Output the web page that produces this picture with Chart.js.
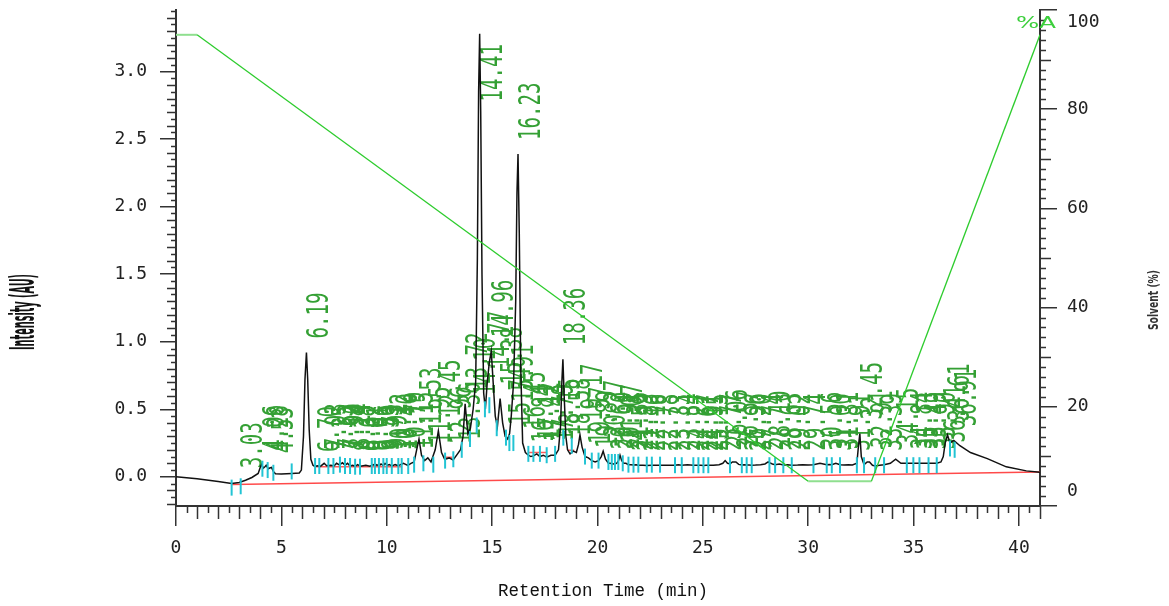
<!DOCTYPE html>
<html>
<head>
<meta charset="utf-8">
<script src="https://cdn.jsdelivr.net/npm/chart.js@4.4.1/dist/chart.umd.min.js"></script>
<style>
  html, body { margin: 0; padding: 0; background: #fff; }
</style>
</head>
<body>
<canvas id="chrom" width="1169" height="606"></canvas>
<script>
// chromatogram — intensity trace, integration marks, peak labels, solvent gradient

const xTicks = [0, 5, 10, 15, 20, 25, 30, 35, 40];
const yTicks = [0, 0.5, 1, 1.5, 2, 2.5, 3];
const solventTicks = [0, 20, 40, 60, 80, 100];

const traceTime = [0, 1, 2, 2.64, 3.0, 3.3, 3.6, 3.9, 4.0, 4.06, 4.15, 4.22, 4.28, 4.38, 4.45, 4.53, 4.62, 4.72, 5.0, 5.5,
  5.85, 5.95, 6.05, 6.12, 6.19, 6.25, 6.32, 6.4, 6.5, 6.6, 6.7, 6.85, 7.03, 7.15, 7.35, 7.5, 7.62, 7.75, 7.9, 8.02,
  8.14, 8.26, 8.38, 8.5, 8.62, 8.75, 9.01, 9.2, 9.36, 9.45, 9.53, 9.63, 9.73, 9.84, 9.92, 10.02, 10.12, 10.25, 10.4, 10.55,
  10.79, 11.0, 11.15, 11.3, 11.42, 11.53, 11.65, 11.8, 11.95, 12.1, 12.3, 12.45, 12.6, 12.75, 12.96, 13.15, 13.36, 13.5, 13.62, 13.72,
  13.85, 13.97, 14.1, 14.22, 14.3, 14.36, 14.41, 14.46, 14.52, 14.6, 14.68, 14.77, 14.87, 14.96, 15.05, 15.15, 15.25, 15.38, 15.5, 15.62,
  15.74, 15.83, 15.91, 16.02, 16.12, 16.18, 16.23, 16.29, 16.36, 16.45, 16.58, 16.72, 16.84, 16.96, 17.12, 17.27, 17.43, 17.59, 17.79, 17.99,
  18.15, 18.25, 18.31, 18.36, 18.42, 18.5, 18.58, 18.7, 18.85, 19.0, 19.1, 19.17, 19.27, 19.41, 19.57, 19.73, 19.89, 20.05, 20.18, 20.27,
  20.38, 20.52, 20.6, 20.75, 20.91, 21.0, 21.07, 21.15, 21.25, 21.35, 21.47, 21.59, 21.71, 21.83, 21.94, 22.16, 22.34, 22.58, 22.78, 22.97,
  23.33, 23.68, 23.84, 24.0, 24.27, 24.55, 24.67, 24.79, 24.91, 25.03, 25.15, 25.26, 25.5, 25.77, 25.95, 26.06, 26.17, 26.29, 26.4, 26.57,
  26.7, 26.85, 26.96, 27.08, 27.2, 27.32, 27.5, 27.74, 27.95, 28.1, 28.16, 28.3, 28.43, 28.63, 28.82, 29.02, 29.22, 29.5, 29.74, 30.0,
  30.25, 30.56, 30.88, 31.0, 31.12, 31.31, 31.51, 31.7, 31.91, 32.1, 32.31, 32.38, 32.45, 32.52, 32.65, 32.8, 32.91, 33.05, 33.18, 33.39,
  33.6, 33.9, 34.15, 34.4, 34.68, 34.84, 34.99, 35.13, 35.28, 35.49, 35.71, 35.9, 36.1, 36.3, 36.41, 36.5, 36.61, 36.73, 36.82, 36.91,
  37.2, 37.7, 38.5, 39.4, 40.35, 41.0];
const traceAU = [0.0, -0.015, -0.035, -0.05, -0.042, -0.025, -0.005, 0.025, 0.07, 0.09, 0.065, 0.075, 0.085, 0.06, 0.065, 0.07, 0.04, 0.022, 0.02, 0.024,
  0.028, 0.05, 0.3, 0.72, 0.92, 0.72, 0.35, 0.13, 0.085, 0.076, 0.082, 0.077, 0.1, 0.082, 0.086, 0.08, 0.1, 0.088, 0.104, 0.085,
  0.1, 0.08, 0.086, 0.078, 0.09, 0.078, 0.085, 0.079, 0.09, 0.08, 0.09, 0.08, 0.095, 0.082, 0.1, 0.084, 0.09, 0.08, 0.09, 0.082,
  0.1, 0.085, 0.1, 0.11, 0.2, 0.28, 0.16, 0.12, 0.14, 0.11, 0.2, 0.34, 0.18, 0.13, 0.14, 0.125, 0.17, 0.2, 0.3, 0.54,
  0.32, 0.36, 0.5, 0.7, 1.6, 2.85, 3.28, 2.7, 1.5, 0.62, 0.5, 0.7, 0.85, 0.93, 0.7, 0.45, 0.37, 0.58, 0.4, 0.3,
  0.28, 0.32, 0.45, 0.7, 1.3, 2.1, 2.39, 1.8, 0.8, 0.25, 0.18, 0.16, 0.15, 0.155, 0.17, 0.15, 0.16, 0.145, 0.16, 0.16,
  0.2, 0.38, 0.7, 0.87, 0.6, 0.3, 0.2, 0.17, 0.19, 0.18, 0.24, 0.31, 0.22, 0.15, 0.14, 0.12, 0.11, 0.12, 0.15, 0.19,
  0.13, 0.1, 0.1, 0.095, 0.1, 0.12, 0.16, 0.12, 0.1, 0.1, 0.09, 0.09, 0.088, 0.09, 0.086, 0.086, 0.084, 0.086, 0.086, 0.085,
  0.086, 0.085, 0.09, 0.086, 0.09, 0.085, 0.086, 0.085, 0.086, 0.084, 0.086, 0.085, 0.086, 0.09, 0.1, 0.12, 0.1, 0.095, 0.11, 0.11,
  0.092, 0.088, 0.09, 0.087, 0.088, 0.086, 0.087, 0.09, 0.095, 0.11, 0.105, 0.095, 0.09, 0.095, 0.088, 0.09, 0.086, 0.087, 0.09, 0.088,
  0.09, 0.1, 0.09, 0.092, 0.09, 0.1, 0.09, 0.088, 0.09, 0.088, 0.1, 0.22, 0.32, 0.15, 0.09, 0.11, 0.11, 0.085, 0.08, 0.085,
  0.09, 0.1, 0.13, 0.1, 0.1, 0.1, 0.1, 0.1, 0.1, 0.1, 0.1, 0.1, 0.1, 0.11, 0.15, 0.25, 0.31, 0.25, 0.26, 0.27,
  0.23, 0.18, 0.135, 0.074, 0.044, 0.033];

// retention times written over the peaks, with the apex height they sit on
const peakTimes = [3.03, 4.06, 4.28, 4.53, 6.19, 6.70, 7.03, 7.35, 7.62, 7.90, 8.14, 8.38, 8.62, 9.01, 9.36, 9.53, 9.73, 9.92, 10.12, 10.40,
  10.79, 11.15, 11.53, 11.95, 12.45, 12.96, 13.36, 13.72, 14.10, 14.41, 14.77, 14.96, 15.38, 15.74, 15.91, 16.23, 16.45, 16.84, 17.12, 17.43,
  17.79, 18.15, 18.36, 18.58, 19.17, 19.57, 19.89, 20.27, 20.60, 20.91, 21.07, 21.35, 21.59, 21.83, 22.16, 22.78, 23.33, 23.84, 24.27, 24.67,
  24.91, 25.15, 25.77, 26.06, 26.57, 26.96, 27.20, 27.74, 28.10, 28.63, 29.02, 29.74, 30.56, 31.00, 31.31, 31.91, 32.45, 32.91, 33.39, 34.15,
  34.84, 35.13, 35.49, 35.90, 36.41, 36.61, 36.91];
const peakAU = [-0.04, 0.09, 0.085, 0.07, 0.92, 0.08, 0.1, 0.085, 0.1, 0.1, 0.1, 0.085, 0.09, 0.085, 0.09, 0.09, 0.095, 0.1, 0.09, 0.09,
  0.1, 0.1, 0.28, 0.14, 0.34, 0.14, 0.17, 0.54, 0.5, 3.28, 0.7, 0.93, 0.58, 0.28, 0.45, 2.39, 0.25, 0.15, 0.17, 0.16,
  0.16, 0.2, 0.87, 0.2, 0.31, 0.14, 0.11, 0.19, 0.1, 0.1, 0.16, 0.1, 0.09, 0.09, 0.086, 0.086, 0.086, 0.09, 0.09, 0.086,
  0.086, 0.086, 0.09, 0.12, 0.11, 0.09, 0.088, 0.09, 0.11, 0.095, 0.09, 0.09, 0.1, 0.09, 0.1, 0.09, 0.32, 0.11, 0.09, 0.13,
  0.1, 0.1, 0.1, 0.1, 0.15, 0.31, 0.27];

// peak start / end marks (cyan)
const markTimes = [2.64, 3.07, 4.10, 4.35, 4.62, 5.49, 6.60, 6.80, 7.23, 7.47, 7.78, 8.02, 8.26, 8.50, 8.73, 9.29, 9.44, 9.63, 9.84, 10.00,
  10.24, 10.55, 10.71, 11.02, 11.30, 11.74, 12.21, 12.77, 13.16, 13.56, 13.95, 14.27, 14.66, 14.87, 15.22, 15.66, 15.82, 16.01, 16.72, 16.96,
  17.27, 17.59, 17.99, 18.38, 18.78, 19.41, 19.73, 20.05, 20.52, 20.68, 20.83, 20.99, 21.20, 21.47, 21.71, 21.94, 22.34, 22.58, 22.97, 23.68,
  24.00, 24.55, 24.79, 25.03, 25.26, 26.29, 26.85, 27.08, 27.32, 28.16, 28.43, 28.82, 29.22, 30.25, 30.88, 31.12, 31.51, 32.31, 32.65, 33.18,
  33.60, 34.68, 34.99, 35.28, 35.71, 36.10, 36.73, 36.95];
const markAU = [-0.08, -0.07, 0.06, 0.05, 0.03, 0.04, 0.08, 0.08, 0.08, 0.08, 0.09, 0.08, 0.08, 0.075, 0.075, 0.08, 0.08, 0.08, 0.08, 0.08,
  0.08, 0.08, 0.08, 0.08, 0.09, 0.1, 0.09, 0.12, 0.13, 0.2, 0.28, 0.38, 0.5, 0.53, 0.36, 0.29, 0.25, 0.25, 0.17, 0.17,
  0.17, 0.16, 0.17, 0.29, 0.23, 0.15, 0.12, 0.12, 0.11, 0.11, 0.11, 0.11, 0.1, 0.09, 0.09, 0.09, 0.09, 0.09, 0.09, 0.086,
  0.086, 0.086, 0.086, 0.086, 0.086, 0.086, 0.086, 0.086, 0.086, 0.086, 0.086, 0.086, 0.086, 0.086, 0.086, 0.086, 0.086, 0.086, 0.086, 0.086,
  0.086, 0.086, 0.086, 0.086, 0.086, 0.086, 0.21, 0.2];

// integration baselines (red)
const baseTime = [2.64, 41];
const baseAU = [-0.056, 0.035];
const dropStart = [6.6, 12.7, 16.7, 18.6];
const dropEnd = [10.7, 13.1, 17.6, 18.9];
const dropAU = [0.075, 0.145, 0.18, 0.197];

// solvent gradient, % A
const gradTime = [0, 1, 30, 33, 41];
const gradPct = [95, 95, 5, 5, 95];

const pts = (xs, ys) => xs.map((x, i) => ({ x, y: ys[i] }));

const drops = [];
dropStart.forEach((s, i) => {
  drops.push({ x: s, y: dropAU[i] }, { x: dropEnd[i], y: dropAU[i] }, { x: dropEnd[i], y: null });
});

const LABEL_FONT = '30px "DejaVu Sans Mono", monospace';
const CHAR_STEP = 11.5;

const decor = {
  id: 'decor',
  beforeDatasetsDraw(chart) {
    const { ctx, chartArea: area, scales: { x, y } } = chart;
    ctx.save();
    ctx.fillStyle = '#34a034';
    ctx.font = LABEL_FONT;
    ctx.textBaseline = 'alphabetic';
    peakTimes.forEach((t, i) => {
      const txt = t.toFixed(2);
      const len = txt.length * CHAR_STEP;
      const px = x.getPixelForValue(t);
      let base = y.getPixelForValue(peakAU[i]) - 14;
      base = Math.max(base, area.top + 34 + len);
      ctx.save();
      ctx.translate(px, base);
      ctx.rotate(-Math.PI / 2);
      ctx.scale(len / ctx.measureText(txt).width, 1);
      ctx.fillText(txt, 0, 22);
      ctx.restore();
    });
    ctx.restore();
  },
  afterDraw(chart) {
    const { ctx, chartArea: area, scales: { x, y, y2 } } = chart;
    ctx.save();
    ctx.strokeStyle = '#333';
    ctx.lineWidth = 1.5;
    ctx.beginPath();
    // minor ticks, bottom axis
    for (let k = 1; k <= 82; k++) {
      if (k % 10 === 0) continue;
      const px = Math.round(x.getPixelForValue(k / 2)) + 0.5;
      const len = k % 2 === 0 ? 13 : 7;
      ctx.moveTo(px, area.bottom);
      ctx.lineTo(px, area.bottom + len);
    }
    // minor ticks, left axis
    for (let k = -4; k <= 69; k++) {
      if (k % 10 === 0) continue;
      const py = Math.round(y.getPixelForValue(k / 20)) + 0.5;
      const len = k % 2 === 0 ? 9 : 5;
      ctx.moveTo(area.left, py);
      ctx.lineTo(area.left - len, py);
    }
    // minor ticks, right axis
    for (let v = 2; v < 100; v += 2) {
      if (v % 20 === 0) continue;
      const py = Math.round(y2.getPixelForValue(v)) + 0.5;
      const len = v % 10 === 0 ? 11 : 6;
      ctx.moveTo(area.right, py);
      ctx.lineTo(area.right + len, py);
    }
    ctx.stroke();

    // right axis labels, pulled inside at the ends
    ctx.fillStyle = '#222';
    ctx.font = '18px "DejaVu Sans Mono"';
    ctx.textAlign = 'left';
    ctx.textBaseline = 'middle';
    solventTicks.forEach(v => {
      let py = y2.getPixelForValue(v);
      py = Math.min(Math.max(py, area.top + 12), area.bottom - 15);
      ctx.fillText(String(v), area.right + 27, py);
    });

    // axis titles
    ctx.textAlign = 'center';
    ctx.font = '17.5px "Liberation Mono"';
    ctx.fillStyle = '#111';
    ctx.fillText('Retention Time (min)', 603, 591);

    const squeezed = (txt, cx, cy, font, len) => {
      ctx.save();
      ctx.translate(cx, cy);
      ctx.rotate(-Math.PI / 2);
      ctx.font = font;
      ctx.scale(len / ctx.measureText(txt).width, 1);
      ctx.fillText(txt, 0, 0);
      ctx.restore();
    };
    squeezed('Intensity (AU)', 25, 312, 'bold 34px "DejaVu Sans"', 76);
    ctx.fillStyle = '#333';
    squeezed('Solvent (%)', 1154, 300, 'bold 14px "DejaVu Sans"', 60);

    // gradient tag
    ctx.fillStyle = '#3ccf3c';
    ctx.save();
    ctx.translate(1036, 24);
    ctx.font = '15px "DejaVu Sans"';
    ctx.scale(40 / ctx.measureText('%A').width, 1);
    ctx.fillText('%A', 0, 0);
    ctx.restore();
    ctx.restore();
  }
};

const tickFont = { family: 'DejaVu Sans Mono', size: 18 };
const noPad = s => { s.paddingTop = 0; s.paddingBottom = 0; s.paddingLeft = 0; s.paddingRight = 0; };

new Chart(document.getElementById('chrom'), {
  type: 'line',
  data: {
    datasets: [
      {
        label: 'Solvent',
        data: pts(gradTime, gradPct),
        yAxisID: 'y2',
        borderColor: '#2ecc2e',
        borderWidth: 1.3,
        pointRadius: 0,
        segment: {
          borderColor: c => c.p0.parsed.y === c.p1.parsed.y ? '#8fdf8f' : undefined,
          borderWidth: c => c.p0.parsed.y === c.p1.parsed.y ? 2 : undefined,
        },
      },
      {
        label: 'Marks',
        type: 'scatter',
        data: pts(markTimes, markAU),
        pointStyle: 'line',
        pointRotation: 90,
        pointRadius: 8,
        pointBorderColor: '#22c4d4',
        pointBorderWidth: 2,
      },
      {
        label: 'Trace',
        data: pts(traceTime, traceAU),
        borderColor: '#111',
        borderWidth: 1.5,
        pointRadius: 0,
      },
      {
        label: 'Baseline',
        data: pts(baseTime, baseAU),
        borderColor: '#ff4a4a',
        borderWidth: 1.5,
        pointRadius: 0,
      },
      {
        label: 'Drops',
        data: drops,
        borderColor: '#ff5a5a',
        borderWidth: 1.5,
        pointRadius: 0,
        spanGaps: false,
      },
    ],
  },
  options: {
    responsive: false,
    animation: false,
    devicePixelRatio: 1,
    layout: { padding: { top: 8 } },
    plugins: { legend: { display: false }, tooltip: { enabled: false } },
    scales: {
      x: {
        type: 'linear', min: 0, max: 41,
        afterFit: s => { noPad(s); s.height = 100; },
        afterBuildTicks: s => { s.ticks = xTicks.map(v => ({ value: v })); },
        grid: { drawOnChartArea: false, tickLength: 20, color: '#333', lineWidth: 1.5 },
        border: { color: '#333', width: 2 },
        ticks: { padding: 12, color: '#222', font: tickFont, maxRotation: 0, autoSkip: false },
      },
      y: {
        min: -0.216, max: 3.456,
        afterFit: s => { noPad(s); s.width = 176; },
        afterBuildTicks: s => { s.ticks = yTicks.map(v => ({ value: v })); },
        grid: { drawOnChartArea: false, tickLength: 16, color: '#333', lineWidth: 1.5 },
        border: { color: '#333', width: 2 },
        ticks: { padding: 13, color: '#222', font: tickFont, callback: v => v.toFixed(1) },
      },
      y2: {
        position: 'right', min: 0, max: 100,
        afterFit: s => { noPad(s); s.width = 129; },
        afterBuildTicks: s => { s.ticks = solventTicks.map(v => ({ value: v })); },
        grid: { drawOnChartArea: false, tickLength: 17, color: '#333', lineWidth: 1.5 },
        border: { color: '#333', width: 2 },
        ticks: { display: false },
      },
    },
  },
  plugins: [decor],
});
</script>
</body>
</html>
